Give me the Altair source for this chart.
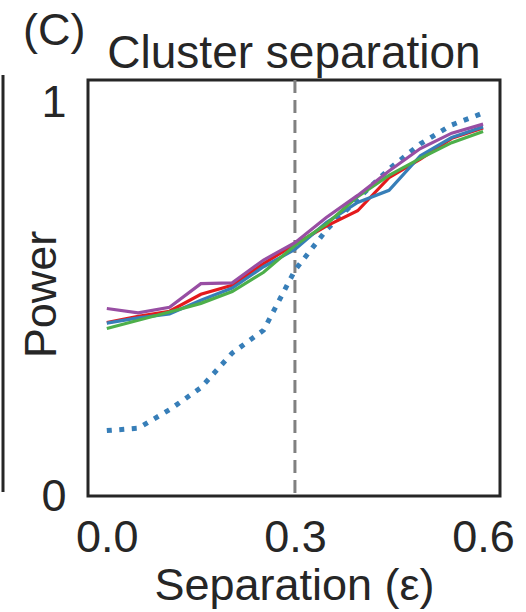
import altair as alt
import pandas as pd

# Separation values (epsilon) and power of each method
eps = [0.0, 0.05, 0.10, 0.15, 0.20, 0.25, 0.30, 0.35, 0.40, 0.45, 0.50, 0.55, 0.60]
power_red = [0.440, 0.456, 0.469, 0.512, 0.535, 0.590, 0.639, 0.685, 0.724, 0.808, 0.855, 0.908, 0.934]
power_blue = [0.439, 0.452, 0.462, 0.497, 0.528, 0.582, 0.626, 0.694, 0.745, 0.776, 0.864, 0.910, 0.937]
power_green = [0.425, 0.446, 0.467, 0.489, 0.519, 0.568, 0.636, 0.690, 0.760, 0.814, 0.857, 0.897, 0.925]
power_purple = [0.476, 0.465, 0.479, 0.539, 0.541, 0.599, 0.643, 0.707, 0.763, 0.825, 0.882, 0.921, 0.944]
power_dotted = [0.166, 0.172, 0.219, 0.275, 0.363, 0.421, 0.573, 0.675, 0.754, 0.830, 0.894, 0.942, 0.972]

series_names = ["red", "blue", "green", "purple"]
series_colors = ["#e41a1c", "#377eb8", "#4daf4a", "#984ea3"]
threshold = 0.3
panel_tag = "(C)"
panel_title = "Cluster separation"

FONT = "Liberation Sans"
INK = "#262626"
W, H = 412, 416

rows = []
for name, vals in zip(series_names, [power_red, power_blue, power_green, power_purple]):
    for e, p in zip(eps, vals):
        rows.append({"eps": e, "power": p, "series": name, "order": series_names.index(name)})
solid_df = pd.DataFrame(rows)
dotted_df = pd.DataFrame({"eps": eps, "power": power_dotted})

x_scale = alt.Scale(domain=[-0.03, 0.627], nice=False, zero=False)
y_scale = alt.Scale(domain=[0, 1.056], nice=False)

x_axis = alt.Axis(
    values=[0.0, 0.3, 0.6], format=".1f", title="Separation (ε)",
    domain=False, ticks=False, grid=False,
    labelFontSize=45, labelPadding=19, labelColor=INK, labelFont=FONT,
    titleFontSize=45, titleFont=FONT, titleColor=INK, titleFontWeight="normal",
    titleBaseline="alphabetic", titleY=103,
)
y_axis = alt.Axis(
    values=[0, 1], format="d", title="Power",
    domain=False, ticks=False, grid=False,
    labelFontSize=45, labelPadding=22, labelColor=INK, labelFont=FONT,
    titleFontSize=45, titleFont=FONT, titleColor=INK, titleFontWeight="normal",
    titleBaseline="alphabetic", titleX=-33, titleY=214, titleAngle=270,
)

base_x = alt.X("eps:Q", scale=x_scale, axis=x_axis)
base_y = alt.Y("power:Q", scale=y_scale, axis=y_axis)

dotted = alt.Chart(dotted_df).mark_line(
    color="#377eb8", strokeWidth=5, strokeDash=[5, 7.5], strokeCap="butt"
).encode(x=base_x, y=base_y)

solid = alt.Chart(solid_df).mark_line(strokeWidth=3.2).encode(
    x=base_x,
    y=base_y,
    color=alt.Color("series:N", scale=alt.Scale(domain=series_names, range=series_colors), legend=None),
    detail="series:N",
    order="order:Q",
)

cutoff = alt.Chart(pd.DataFrame({"eps": [threshold]})).mark_rule(
    color="#808080", strokeWidth=3, strokeDash=[13, 7]
).encode(x=alt.X("eps:Q", scale=x_scale))

panel_label = alt.Chart(pd.DataFrame({"t": [panel_tag]})).mark_text(
    font=FONT, fontSize=45, color=INK, align="left", baseline="alphabetic"
).encode(x=alt.value(-65), y=alt.value(-35), text="t:N")

title_text = alt.Chart(pd.DataFrame({"t": [panel_title]})).mark_text(
    font=FONT, fontSize=46, color=INK, align="center", baseline="alphabetic"
).encode(x=alt.value(W / 2), y=alt.value(-12), text="t:N")

# edge of the neighbouring panel on the left
neighbour_edge = alt.Chart(pd.DataFrame({"k": [0]})).mark_rule(
    color=INK, strokeWidth=3
).encode(x=alt.value(-85), y=alt.value(-5), y2=alt.value(412))

chart = alt.layer(cutoff, dotted, solid, panel_label, title_text, neighbour_edge).properties(
    width=W,
    height=H,
    background="white",
    autosize=alt.AutoSizeParams(type="none"),
    padding={"left": 88, "top": 80, "right": 26, "bottom": 116},
).configure_view(
    stroke=INK, strokeWidth=3
)

chart.save("out.html", embed_options={"renderer": "svg", "actions": False})
